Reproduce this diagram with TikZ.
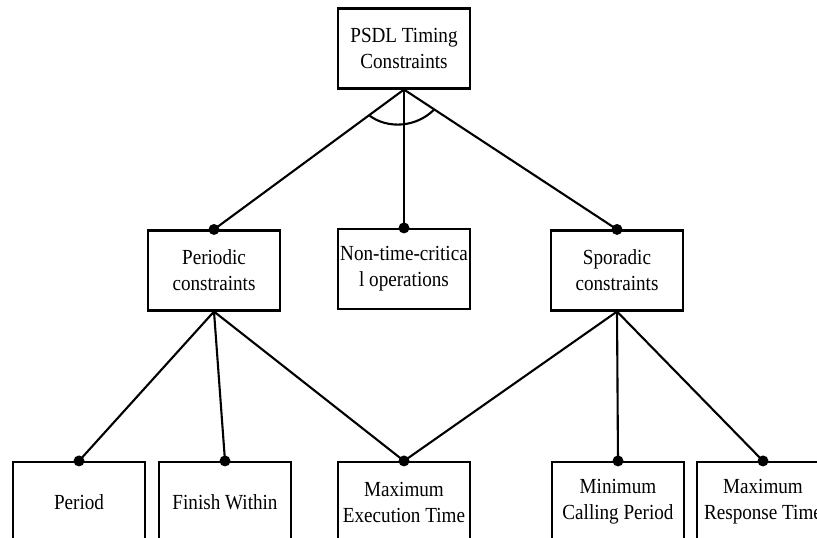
\documentclass[tikz,border=0pt]{standalone}
\usepackage{fontspec}
\setmainfont{Liberation Serif}[FakeStretch=0.89]
\usetikzlibrary{calc}
\begin{document}
\begin{tikzpicture}[x=1pt,y=-1pt,
  box/.style={draw,line width=2.1pt,minimum width=132pt,minimum height=80pt,inner sep=0pt,align=center,font=\fontsize{21.5}{26}\selectfont},
  link/.style={line width=2.1pt},
  dotmark/.style={fill=black}]
\useasboundingbox (0,0) rectangle (817,538);
\clip (0,0) rectangle (817,538);
\node[box] (top) at (404,48.5) {PSDL Timing\\Constraints};
\node[box] (per) at (214,270.5) {Periodic\\constraints};
\node[box] (non) at (404,269) {Non-time-critica\\l operations};
\node[box] (spo) at (617,270.5) {Sporadic\\constraints};
\node[box] (pd) at (79,502) {Period};
\node[box] (fw) at (225,502) {Finish Within};
\node[box] (met) at (404,502) {Maximum\\Execution Time};
\node[box] (mcp) at (618,502) {Minimum\\Calling Period};
\node[box] (mrt) at (763,502) {Maximum\\Response Time};
\draw[link] (top.south) -- (per.north);
\draw[link] (top.south) -- (non.north);
\draw[link] (top.south) -- (spo.north);
\coordinate (al) at ($(top.south)!0.184!(per.north)$);
\coordinate (ar) at ($(top.south)!0.142!(spo.north)$);
\draw[link] (al) .. controls (388,129.7) and (417,127.1) .. (ar);
\draw[link] (per.south) -- (pd.north);
\draw[link] (per.south) -- (fw.north);
\draw[link] (per.south) -- (met.north);
\draw[link] (spo.south) -- (met.north);
\draw[link] (spo.south) -- (mcp.north);
\draw[link] (spo.south) -- (mrt.north);
\foreach \n in {per,non,spo,pd,fw,met,mcp,mrt}
  \fill[dotmark] (\n.north) circle (5.5pt);
\end{tikzpicture}
\end{document}
